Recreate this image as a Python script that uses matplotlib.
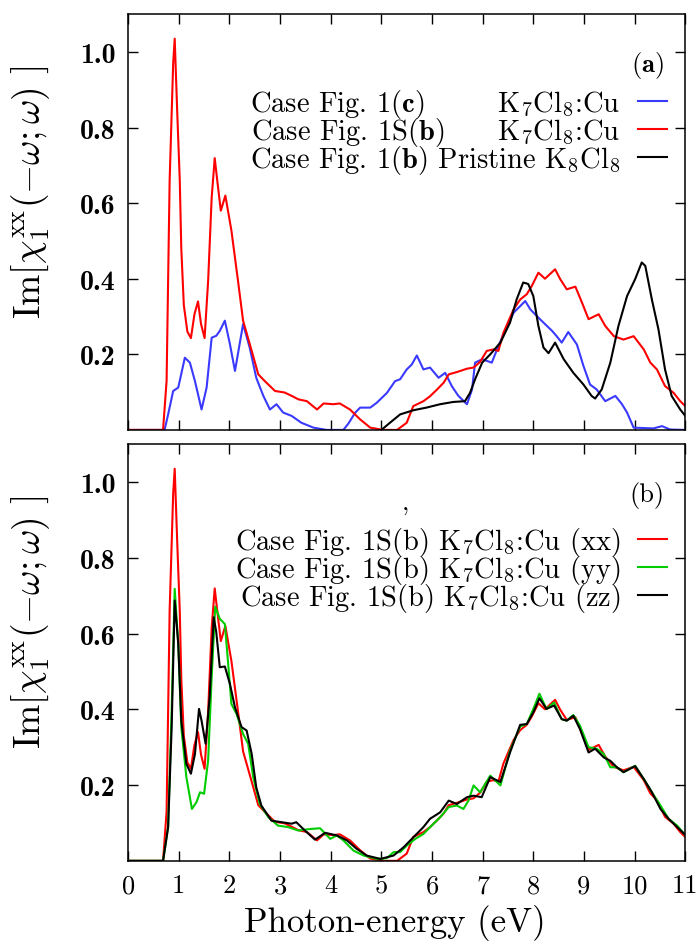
import matplotlib
matplotlib.use('Agg')
import matplotlib.pyplot as plt

plt.rcParams['font.family'] = 'serif'
plt.rcParams['font.serif'] = ['cmr10']
plt.rcParams['mathtext.fontset'] = 'cm'
plt.rcParams['axes.unicode_minus'] = False

# K7Cl8:Cu, case 1S(b), xx component (shown in both panels)
e_xx = [0.00, 0.69, 0.76, 0.82, 0.89, 0.92, 0.97, 1.02, 1.05, 1.10,
        1.17, 1.24, 1.31, 1.38, 1.44, 1.51, 1.58, 1.65, 1.71, 1.76,
        1.83, 1.92, 2.04, 2.17, 2.27, 2.44, 2.57, 2.70, 2.90, 3.09,
        3.23, 3.36, 3.53, 3.73, 3.86, 4.05, 4.18, 4.38, 4.58, 4.78,
        5.04, 5.31, 5.50, 5.63, 5.83, 5.96, 6.10, 6.23, 6.33, 6.49,
        6.69, 6.82, 6.95, 7.08, 7.21, 7.31, 7.41, 7.61, 7.74, 7.87,
        7.97, 8.10, 8.23, 8.43, 8.53, 8.66, 8.83, 8.96, 9.09, 9.29,
        9.42, 9.59, 9.78, 9.98, 10.18, 10.31, 10.44, 10.60, 10.77, 10.90,
        11.00]
im_xx = [0.000, 0.000, 0.130, 0.660, 0.970, 1.035, 0.840, 0.660, 0.480, 0.330,
         0.260, 0.243, 0.306, 0.340, 0.280, 0.243, 0.394, 0.615, 0.719, 0.660,
         0.580, 0.620, 0.527, 0.394, 0.289, 0.209, 0.147, 0.129, 0.103, 0.099,
         0.090, 0.081, 0.076, 0.054, 0.070, 0.068, 0.070, 0.054, 0.028, 0.006,
         0.000, 0.000, 0.019, 0.063, 0.076, 0.089, 0.107, 0.125, 0.147, 0.153,
         0.162, 0.165, 0.180, 0.209, 0.213, 0.209, 0.257, 0.319, 0.345, 0.359,
         0.381, 0.416, 0.400, 0.425, 0.399, 0.372, 0.379, 0.337, 0.293, 0.306,
         0.275, 0.248, 0.239, 0.248, 0.213, 0.178, 0.160, 0.116, 0.098, 0.076,
         0.063]

# K7Cl8:Cu, case 1(c)
e_c = [0.00, 0.72, 0.79, 0.89, 0.99, 1.12, 1.22, 1.32, 1.45, 1.55,
       1.65, 1.74, 1.81, 1.91, 2.01, 2.11, 2.27, 2.40, 2.53, 2.67,
       2.80, 2.93, 3.06, 3.23, 3.42, 3.66, 3.92, 4.25, 4.35, 4.48,
       4.58, 4.78, 4.91, 5.11, 5.27, 5.37, 5.50, 5.60, 5.70, 5.83,
       5.96, 6.13, 6.26, 6.39, 6.52, 6.69, 6.79, 6.85, 6.99, 7.18,
       7.31, 7.44, 7.61, 7.84, 7.94, 8.10, 8.23, 8.37, 8.46, 8.56,
       8.69, 8.86, 8.99, 9.12, 9.25, 9.42, 9.62, 9.75, 9.85, 9.98,
       10.37, 10.54, 10.70, 11.00]
im_c = [0.000, 0.000, 0.041, 0.103, 0.112, 0.191, 0.178, 0.129, 0.054, 0.112,
        0.244, 0.249, 0.262, 0.289, 0.227, 0.156, 0.280, 0.218, 0.138, 0.090,
        0.054, 0.068, 0.046, 0.037, 0.019, 0.006, 0.000, 0.000, 0.017, 0.045,
        0.059, 0.059, 0.072, 0.098, 0.129, 0.134, 0.160, 0.173, 0.197, 0.160,
        0.165, 0.138, 0.151, 0.116, 0.090, 0.068, 0.107, 0.178, 0.187, 0.178,
        0.222, 0.262, 0.310, 0.341, 0.319, 0.297, 0.280, 0.262, 0.248, 0.231,
        0.259, 0.226, 0.169, 0.120, 0.107, 0.076, 0.090, 0.068, 0.046, 0.006,
        0.004, 0.010, 0.001, 0.000]

# pristine K8Cl8
e_k8 = [5.00, 5.17, 5.37, 5.63, 5.89, 6.16, 6.42, 6.65, 6.75, 6.85,
        6.99, 7.15, 7.35, 7.54, 7.67, 7.80, 7.90, 8.00, 8.10, 8.20,
        8.30, 8.43, 8.60, 8.79, 8.99, 9.15, 9.22, 9.35, 9.52, 9.68,
        9.85, 10.01, 10.14, 10.21, 10.34, 10.47, 10.60, 10.73, 10.90, 11.00]
im_k8 = [0.000, 0.019, 0.041, 0.052, 0.059, 0.068, 0.074, 0.076, 0.098, 0.134,
         0.178, 0.200, 0.231, 0.284, 0.345, 0.390, 0.386, 0.354, 0.275, 0.218,
         0.203, 0.231, 0.187, 0.151, 0.120, 0.090, 0.083, 0.107, 0.178, 0.275,
         0.354, 0.399, 0.443, 0.434, 0.345, 0.266, 0.160, 0.090, 0.054, 0.037]

# case 1S(b), yy component
e_yy = [0.00, 0.69, 0.79, 0.86, 0.92, 0.99, 1.05, 1.15, 1.26, 1.35,
        1.42, 1.50, 1.58, 1.65, 1.72, 1.81, 1.91, 1.97, 2.04, 2.14,
        2.27, 2.37, 2.47, 2.60, 2.77, 2.96, 3.16, 3.36, 3.59, 3.79,
        3.99, 4.12, 4.25, 4.45, 4.65, 4.91, 5.11, 5.24, 5.37, 5.50,
        5.67, 5.83, 6.03, 6.16, 6.33, 6.49, 6.62, 6.72, 6.82, 6.95,
        7.15, 7.35, 7.54, 7.74, 7.87, 8.00, 8.12, 8.26, 8.41, 8.56,
        8.66, 8.79, 8.92, 9.09, 9.25, 9.39, 9.52, 9.65, 9.78, 10.01,
        10.18, 10.34, 10.51, 10.67, 10.84, 10.98]
im_yy = [0.000, 0.000, 0.089, 0.397, 0.718, 0.573, 0.353, 0.221, 0.137, 0.155,
         0.181, 0.177, 0.265, 0.485, 0.671, 0.639, 0.625, 0.529, 0.414, 0.388,
         0.335, 0.309, 0.221, 0.150, 0.115, 0.093, 0.089, 0.080, 0.084, 0.086,
         0.058, 0.067, 0.054, 0.027, 0.014, 0.005, 0.007, 0.023, 0.023, 0.040,
         0.058, 0.071, 0.098, 0.115, 0.142, 0.146, 0.137, 0.159, 0.199, 0.181,
         0.225, 0.199, 0.291, 0.355, 0.361, 0.401, 0.441, 0.401, 0.418, 0.374,
         0.370, 0.385, 0.357, 0.300, 0.296, 0.282, 0.247, 0.247, 0.234, 0.251,
         0.216, 0.181, 0.146, 0.111, 0.093, 0.071]

# case 1S(b), zz component
e_zz = [0.00, 0.69, 0.79, 0.86, 0.92, 0.99, 1.05, 1.15, 1.24, 1.32,
        1.40, 1.45, 1.53, 1.61, 1.69, 1.74, 1.81, 1.91, 2.01, 2.11,
        2.24, 2.34, 2.44, 2.53, 2.63, 2.83, 3.03, 3.23, 3.32, 3.49,
        3.69, 3.89, 4.12, 4.32, 4.51, 4.71, 4.98, 5.24, 5.44, 5.63,
        5.83, 5.96, 6.16, 6.33, 6.49, 6.69, 6.82, 6.98, 7.15, 7.35,
        7.54, 7.74, 7.87, 8.00, 8.12, 8.26, 8.41, 8.56, 8.66, 8.79,
        8.92, 9.09, 9.22, 9.39, 9.52, 9.65, 9.78, 10.01, 10.18, 10.34,
        10.51, 10.67, 10.84, 10.98]
im_zz = [0.000, 0.000, 0.089, 0.353, 0.687, 0.573, 0.370, 0.256, 0.230, 0.282,
         0.401, 0.370, 0.309, 0.432, 0.643, 0.604, 0.511, 0.513, 0.467, 0.405,
         0.353, 0.344, 0.282, 0.194, 0.146, 0.106, 0.102, 0.098, 0.102, 0.080,
         0.056, 0.074, 0.067, 0.054, 0.032, 0.014, 0.005, 0.014, 0.036, 0.062,
         0.089, 0.111, 0.128, 0.159, 0.150, 0.168, 0.172, 0.168, 0.221, 0.208,
         0.286, 0.359, 0.361, 0.392, 0.429, 0.401, 0.410, 0.374, 0.370, 0.383,
         0.348, 0.286, 0.296, 0.273, 0.264, 0.247, 0.234, 0.250, 0.216, 0.181,
         0.137, 0.111, 0.089, 0.071]

x_ticks = list(range(0, 12))
y_ticks = [0.2, 0.4, 0.6, 0.8, 1.0]
y_tick_labels = ['0.2', '0.4', '0.6', '0.8', '1.0']

k7 = r'K$_7$Cl$_8$:Cu'
labels_a = [r'Case Fig. 1($\mathbf{c}$)$\hspace{2.9}$' + k7,
            r'Case Fig. 1S($\mathbf{b}$)$\hspace{2.1}$' + k7,
            r'Case Fig. 1($\mathbf{b}$) Pristine K$_8$Cl$_8$']
labels_b = [r'Case Fig. 1S(b) ' + k7 + ' (xx)',
            r'Case Fig. 1S(b) ' + k7 + ' (yy)',
            r'Case Fig. 1S(b) ' + k7 + ' (zz)']

RED = '#ff0000'
BLUE = '#3a3aff'
GREEN = '#00cc00'
BLACK = '#000000'
LW = 1.5
LEG_FS = 20.5


def style_axes(ax, show_x):
    ax.set_xlim(0, 11)
    ax.set_ylim(0, 1.1)
    ax.set_xticks(x_ticks)
    ax.set_yticks(y_ticks)
    ax.set_yticklabels(y_tick_labels, fontfamily='cmb10', fontsize=20)
    ax.tick_params(direction='in', length=7, width=1.0, top=True, right=True, pad=9)
    ax.tick_params(axis='x', labelsize=19)
    if not show_x:
        ax.tick_params(axis='x', labelbottom=False)
    for s in ax.spines.values():
        s.set_linewidth(1.1)
    ax.set_ylabel(r'Im[$\chi_1^{\rm xx}(-\omega;\omega)$ ]', fontsize=27)
    ax.yaxis.set_label_coords(-0.136, 0.575)


def add_legend(ax, handles, labels, top):
    ax.legend(handles, labels, loc='upper right', bbox_to_anchor=(0.968, top),
              frameon=False, markerfirst=False, fontsize=LEG_FS, borderpad=0,
              borderaxespad=0, handlelength=1.05, handletextpad=0.6,
              labelspacing=-0.18)


fig = plt.figure(figsize=(7, 9.45), dpi=100)
ax1 = fig.add_axes([0.183, 0.544, 0.796, 0.440])
ax2 = fig.add_axes([0.183, 0.088, 0.796, 0.441])

# panel (a)
l1, = ax1.plot(e_c, im_c, color=BLUE, lw=LW)
l2, = ax1.plot(e_xx, im_xx, color=RED, lw=LW)
l3, = ax1.plot(e_k8, im_k8, color=BLACK, lw=LW)
style_axes(ax1, False)
add_legend(ax1, [l1, l2, l3], labels_a, 0.825)
ax1.text(0.962, 0.88, r'($\mathbf{a}$)', transform=ax1.transAxes, ha='right',
         va='center', fontsize=19)

# panel (b)
m1, = ax2.plot(e_xx, im_xx, color=RED, lw=LW)
m2, = ax2.plot(e_yy, im_yy, color=GREEN, lw=LW)
m3, = ax2.plot(e_zz, im_zz, color=BLACK, lw=LW)
style_axes(ax2, True)
add_legend(ax2, [m1, m2, m3], labels_b, 0.805)
ax2.text(0.962, 0.88, '(b)', transform=ax2.transAxes, ha='right', va='center', fontsize=19)
ax2.text(0.497, 0.858, ',', transform=ax2.transAxes, ha='center', va='center', fontsize=19)
ax2.set_xlabel('Photon-energy (eV)', fontsize=25)
ax2.xaxis.set_label_coords(0.478, -0.103)

fig.savefig('out.png', dpi=100)
